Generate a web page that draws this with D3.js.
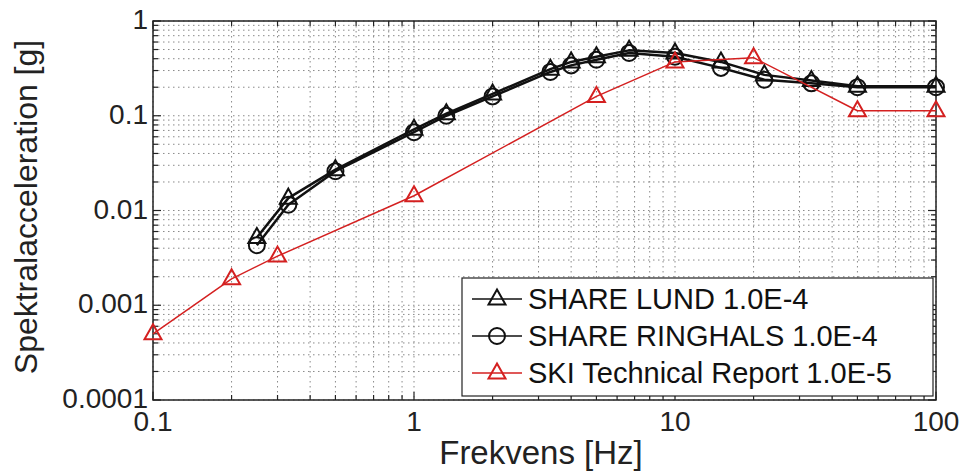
<!DOCTYPE html>
<html>
<head>
<meta charset="utf-8">
<script src="https://cdn.jsdelivr.net/npm/d3@7"></script>
<style>
  body { margin: 0; background: #fff; }
  text { font-family: "Liberation Sans", Arial, sans-serif; }
</style>
</head>
<body>
<svg id="chart" width="963" height="471"></svg>
<script>
// data
const lundFreq = [0.25, 0.33, 0.5, 1, 1.33, 2, 3.33, 4, 5, 6.67, 10, 15, 22, 33.3, 50, 100];
const lundAcc = [0.0052, 0.0135, 0.027, 0.072, 0.105, 0.17, 0.31, 0.37, 0.42, 0.49, 0.46, 0.37, 0.27, 0.235, 0.205, 0.205];
const ringFreq = [0.25, 0.33, 0.5, 1, 1.33, 2, 3.33, 4, 5, 6.67, 10, 15, 22, 33.3, 50, 100];
const ringAcc = [0.0043, 0.0115, 0.026, 0.067, 0.1, 0.16, 0.29, 0.34, 0.39, 0.46, 0.42, 0.32, 0.24, 0.22, 0.2, 0.2];
const skiFreq = [0.1, 0.2, 0.3, 1, 5, 10, 20, 50, 100];
const skiAcc = [0.0005, 0.0019, 0.0033, 0.0143, 0.16, 0.37, 0.41, 0.113, 0.113];

const legendLabels = ["SHARE LUND 1.0E-4", "SHARE RINGHALS 1.0E-4", "SKI Technical Report 1.0E-5"];
const xTicks = [0.1, 1, 10, 100];
const xTickLabels = ["0.1", "1", "10", "100"];
const yTicks = [0.0001, 0.001, 0.01, 0.1, 1];
const yTickLabels = ["0.0001", "0.001", "0.01", "0.1", "1"];

const margin = {left: 153, top: 21, right: 27, bottom: 71};
const width = 963, height = 471;
const svg = d3.select("#chart");

const x = d3.scaleLog().domain([0.1, 100]).range([margin.left, width - margin.right]);
const y = d3.scaleLog().domain([0.0001, 1]).range([height - margin.bottom, margin.top]);

// minor values for grid + ticks
function minorVals(lo, hi) {
    let vals = [];
    for (let e = Math.log10(lo); e < Math.log10(hi); e++) {
        for (let k = 1; k < 10; k++) vals.push(k * Math.pow(10, e));
    }
    vals.push(hi);
    return vals;
}
const xAll = minorVals(0.1, 100);
const yAll = minorVals(0.0001, 1);

const grid = svg.append("g").attr("class", "grid");
grid.selectAll("line.gx")
    .data(xAll)
    .join("line")
    .attr("x1", d => x(d)).attr("x2", d => x(d))
    .attr("y1", y.range()[1]).attr("y2", y.range()[0])
    .attr("stroke", "#8a8a8a")
    .attr("stroke-width", 1)
    .attr("stroke-dasharray", "1.5,3.5");
grid.selectAll("line.gy")
    .data(yAll)
    .join("line")
    .attr("y1", d => y(d)).attr("y2", d => y(d))
    .attr("x1", x.range()[0]).attr("x2", x.range()[1])
    .attr("stroke", "#8a8a8a")
    .attr("stroke-width", 1)
    .attr("stroke-dasharray", "1.5,3.5");

// tick marks on all four sides (inside)
const tickG = svg.append("g").attr("stroke", "#222").attr("stroke-width", 1.2);
xAll.forEach(function(d) {
    let len = xTicks.includes(d) ? 8 : 5;
    tickG.append("line").attr("x1", x(d)).attr("x2", x(d)).attr("y1", y.range()[0]).attr("y2", y.range()[0] - len);
    tickG.append("line").attr("x1", x(d)).attr("x2", x(d)).attr("y1", y.range()[1]).attr("y2", y.range()[1] + len);
});
yAll.forEach(function(d) {
    let len = yTicks.includes(d) ? 8 : 5;
    tickG.append("line").attr("y1", y(d)).attr("y2", y(d)).attr("x1", x.range()[0]).attr("x2", x.range()[0] + len);
    tickG.append("line").attr("y1", y(d)).attr("y2", y(d)).attr("x1", x.range()[1]).attr("x2", x.range()[1] - len);
});

svg.append("rect")
    .attr("x", x.range()[0]).attr("y", y.range()[1])
    .attr("width", x.range()[1] - x.range()[0])
    .attr("height", y.range()[0] - y.range()[1])
    .attr("fill", "none").attr("stroke", "#222").attr("stroke-width", 1.5);

// tick labels
svg.append("g").selectAll("text")
    .data(xTicks)
    .join("text")
    .attr("x", d => x(d)).attr("y", y.range()[0] + 31)
    .attr("text-anchor", "middle")
    .attr("font-size", 28)
    .attr("fill", "#222")
    .text((d, i) => xTickLabels[i]);
svg.append("g").selectAll("text")
    .data(yTicks)
    .join("text")
    .attr("x", x.range()[0] - 5).attr("y", d => y(d) + 8)
    .attr("text-anchor", "end")
    .attr("font-size", 28)
    .attr("fill", "#222")
    .text((d, i) => yTickLabels[i]);

// axis titles
svg.append("text")
    .attr("x", 541).attr("y", 464)
    .attr("text-anchor", "middle")
    .attr("font-size", 33)
    .attr("fill", "#222")
    .text("Frekvens [Hz]");
svg.append("text")
    .attr("transform", "translate(37,207) rotate(-90)")
    .attr("text-anchor", "middle")
    .attr("font-size", 32)
    .attr("fill", "#222")
    .text("Spektralacceleration [g]");

const line = d3.line().x(d => x(d[0])).y(d => y(d[1]));
const triPath = "M0,-9.5L8.5,5.5L-8.5,5.5Z";

function drawSeries(freq, acc, color, lw, marker) {
    const pts = freq.map((f, i) => [f, acc[i]]);
    const g = svg.append("g");
    g.append("path")
        .attr("d", line(pts))
        .attr("fill", "none")
        .attr("stroke", color)
        .attr("stroke-width", lw)
        .attr("stroke-linejoin", "round");
    pts.forEach(function(p) {
        drawMarker(g, x(p[0]), y(p[1]), color, marker);
    });
}

function drawMarker(g, cx, cy, color, marker) {
    if (marker === "tri") {
        g.append("path")
            .attr("d", triPath)
            .attr("transform", `translate(${cx},${cy})`)
            .attr("fill", "none")
            .attr("stroke", color)
            .attr("stroke-width", 2);
    } else {
        g.append("circle")
            .attr("cx", cx).attr("cy", cy).attr("r", 8)
            .attr("fill", "none")
            .attr("stroke", color)
            .attr("stroke-width", 2);
    }
}

drawSeries(ringFreq, ringAcc, "#111", 2.5, "circle");
drawSeries(lundFreq, lundAcc, "#111", 2.5, "tri");
drawSeries(skiFreq, skiAcc, "#d42020", 1.5, "tri");

// legend
const legend = svg.append("g");
legend.append("rect")
    .attr("x", 462).attr("y", 278)
    .attr("width", 471).attr("height", 118)
    .attr("fill", "#fff").attr("stroke", "#222").attr("stroke-width", 1.2);
const legColors = ["#111", "#111", "#d42020"];
const legMarkers = ["tri", "circle", "tri"];
legendLabels.forEach(function(lab, i) {
    const ly = 299 + i * 37;
    legend.append("line")
        .attr("x1", 472).attr("x2", 522)
        .attr("y1", ly).attr("y2", ly)
        .attr("stroke", legColors[i]).attr("stroke-width", 1.5);
    drawMarker(legend, 497, ly, legColors[i], legMarkers[i]);
    legend.append("text")
        .attr("x", 528).attr("y", ly + 10)
        .attr("font-size", 29)
        .attr("fill", "#111")
        .text(lab);
});
</script>
</body>
</html>
